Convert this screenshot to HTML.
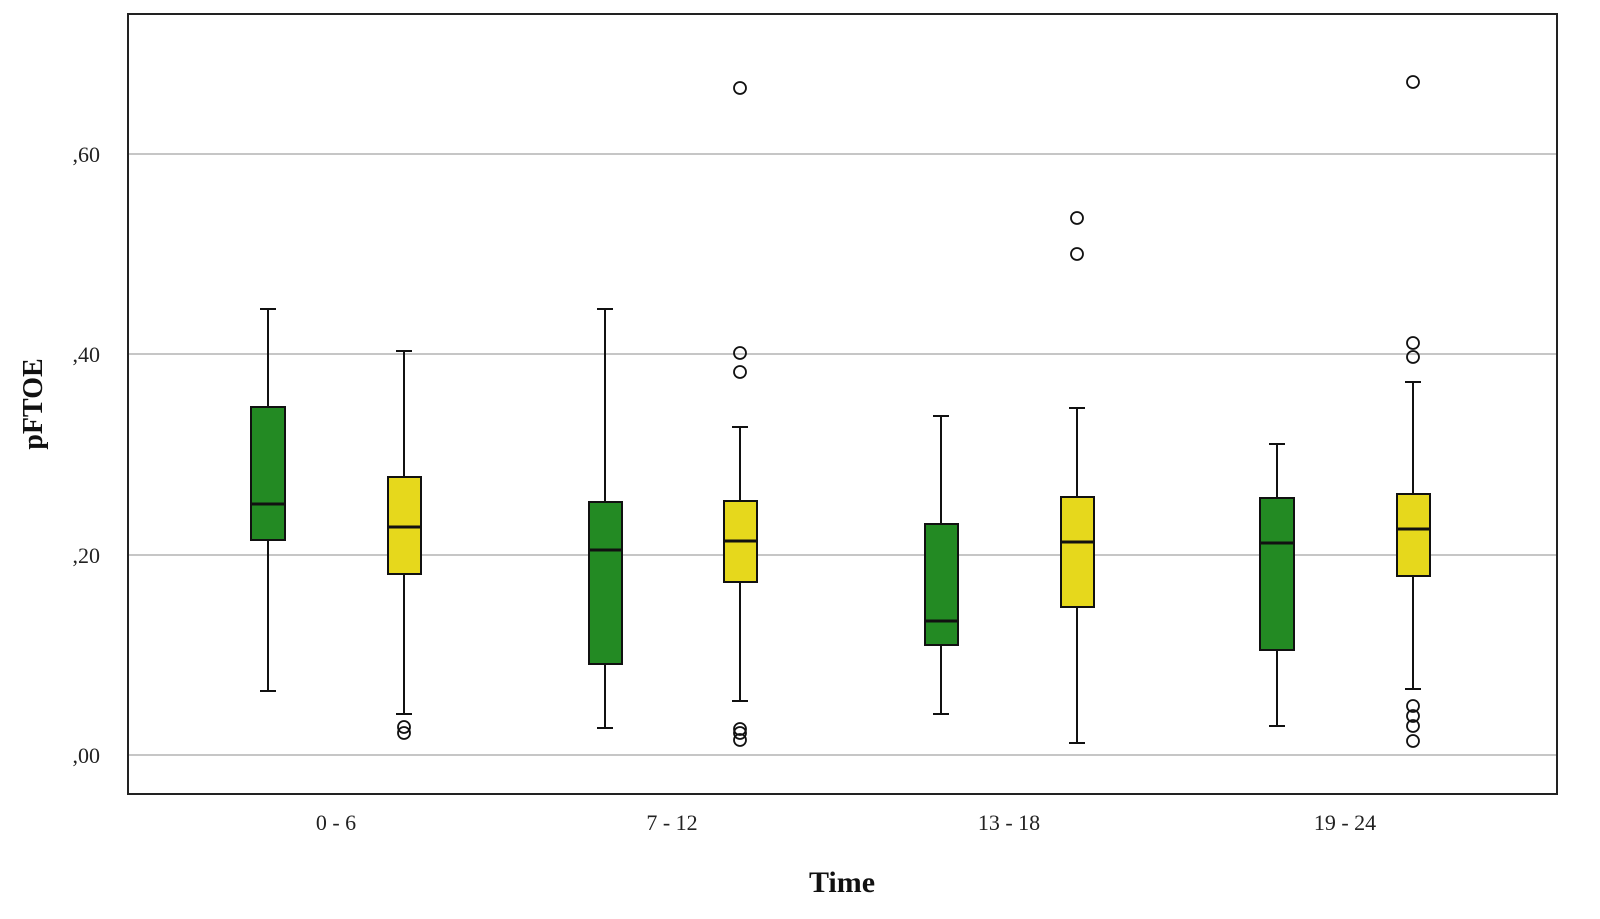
<!DOCTYPE html>
<html><head><meta charset="utf-8"><style>html,body{margin:0;padding:0;background:#fff;overflow:hidden;width:1600px;height:919px}svg{display:block}</style></head>
<body>
<svg width="1600" height="919" viewBox="0 0 1600 919" xmlns="http://www.w3.org/2000/svg" font-family="Liberation Serif, serif">
<rect width="1600" height="919" fill="#fff"/>
<g stroke="#b4b4b4" stroke-width="1.5">
<line x1="129" x2="1556" y1="154" y2="154"/>
<line x1="129" x2="1556" y1="354" y2="354"/>
<line x1="129" x2="1556" y1="555" y2="555"/>
<line x1="129" x2="1556" y1="755" y2="755"/>
</g>
<rect x="128" y="14" width="1429" height="780" fill="none" stroke="#222" stroke-width="2"/>
<g font-size="22" fill="#222" text-anchor="end">
<text x="100" y="162">,60</text>
<text x="100" y="362">,40</text>
<text x="100" y="563">,20</text>
<text x="100" y="763">,00</text>
</g>
<g font-size="22" fill="#222" text-anchor="middle">
<text x="336" y="830">0 - 6</text>
<text x="672" y="830">7 - 12</text>
<text x="1009" y="830">13 - 18</text>
<text x="1345" y="830">19 - 24</text>
</g>
<text x="842" y="892" font-size="30" font-weight="bold" text-anchor="middle" fill="#111">Time</text>
<text transform="translate(42,404) rotate(-90)" font-size="28" font-weight="bold" text-anchor="middle" fill="#111">pFTOE</text>
<g stroke="#111" stroke-width="2">
<line x1="268" x2="268" y1="309" y2="691"/><line x1="260" x2="276" y1="309" y2="309"/><line x1="260" x2="276" y1="691" y2="691"/>
<rect x="251" y="407" width="34" height="133" fill="#238a23"/><line x1="251" x2="285" y1="504" y2="504" stroke-width="3"/>
<line x1="404" x2="404" y1="351" y2="714"/><line x1="396" x2="412" y1="351" y2="351"/><line x1="396" x2="412" y1="714" y2="714"/>
<rect x="388" y="477" width="33" height="97" fill="#e6d81c"/><line x1="388" x2="421" y1="527" y2="527" stroke-width="3"/>
<line x1="605" x2="605" y1="309" y2="728"/><line x1="597" x2="613" y1="309" y2="309"/><line x1="597" x2="613" y1="728" y2="728"/>
<rect x="589" y="502" width="33" height="162" fill="#238a23"/><line x1="589" x2="622" y1="550" y2="550" stroke-width="3"/>
<line x1="740" x2="740" y1="427" y2="701"/><line x1="732" x2="748" y1="427" y2="427"/><line x1="732" x2="748" y1="701" y2="701"/>
<rect x="724" y="501" width="33" height="81" fill="#e6d81c"/><line x1="724" x2="757" y1="541" y2="541" stroke-width="3"/>
<line x1="941" x2="941" y1="416" y2="714"/><line x1="933" x2="949" y1="416" y2="416"/><line x1="933" x2="949" y1="714" y2="714"/>
<rect x="925" y="524" width="33" height="121" fill="#238a23"/><line x1="925" x2="958" y1="621" y2="621" stroke-width="3"/>
<line x1="1077" x2="1077" y1="408" y2="743"/><line x1="1069" x2="1085" y1="408" y2="408"/><line x1="1069" x2="1085" y1="743" y2="743"/>
<rect x="1061" y="497" width="33" height="110" fill="#e6d81c"/><line x1="1061" x2="1094" y1="542" y2="542" stroke-width="3"/>
<line x1="1277" x2="1277" y1="444" y2="726"/><line x1="1269" x2="1285" y1="444" y2="444"/><line x1="1269" x2="1285" y1="726" y2="726"/>
<rect x="1260" y="498" width="34" height="152" fill="#238a23"/><line x1="1260" x2="1294" y1="543" y2="543" stroke-width="3"/>
<line x1="1413" x2="1413" y1="382" y2="689"/><line x1="1405" x2="1421" y1="382" y2="382"/><line x1="1405" x2="1421" y1="689" y2="689"/>
<rect x="1397" y="494" width="33" height="82" fill="#e6d81c"/><line x1="1397" x2="1430" y1="529" y2="529" stroke-width="3"/>
</g>
<g fill="none" stroke="#111" stroke-width="1.8">
<circle cx="404" cy="727" r="6"/><circle cx="404" cy="733" r="6"/>
<circle cx="740" cy="88" r="6"/><circle cx="740" cy="353" r="6"/><circle cx="740" cy="372" r="6"/>
<circle cx="740" cy="729" r="6"/><circle cx="740" cy="733" r="6"/><circle cx="740" cy="740" r="6"/>
<circle cx="1077" cy="218" r="6"/><circle cx="1077" cy="254" r="6"/>
<circle cx="1413" cy="82" r="6"/><circle cx="1413" cy="343" r="6"/><circle cx="1413" cy="357" r="6"/>
<circle cx="1413" cy="706" r="6"/><circle cx="1413" cy="716" r="6"/><circle cx="1413" cy="726" r="6"/><circle cx="1413" cy="741" r="6"/>
</g>
</svg>
</body></html>
